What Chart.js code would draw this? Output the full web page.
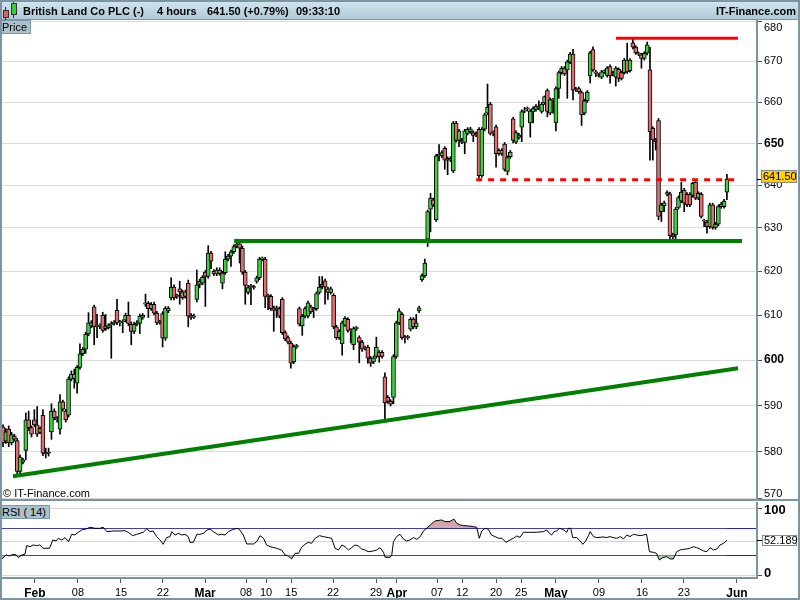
<!DOCTYPE html>
<html>
<head>
<meta charset="utf-8">
<title>British Land Co PLC - 4 hours</title>
<script src="https://cdnjs.cloudflare.com/ajax/libs/Chart.js/4.4.0/chart.umd.min.js"></script>
<style>
  html, body { margin: 0; padding: 0; background: #fff; }
  #wrap { position: relative; width: 800px; height: 600px; overflow: hidden; font-family: "Liberation Sans", Arial, sans-serif; font-size: 11px; color: #000; }
  #header { position: absolute; left: 0; top: 0; width: 800px; height: 19px; background: linear-gradient(#d4e6ee, #aecad8); border-bottom: 1px solid #7a95a4; }
  #header span { position: absolute; top: 1px; line-height: 20px; white-space: nowrap; font-weight: bold; font-size: 11px; }
  .tag { position: absolute; left: 0; height: 12px; line-height: 13px; padding: 0 3px 0 2px; background: #a9c2ce; border: 1px solid #7d97a5; border-left: none; font-size: 11px; }
  canvas { position: absolute; left: 0; }
  #priceCanvas { top: 20px; }
  #rsiCanvas { top: 500px; }
  #divider { position: absolute; left: 0; top: 499px; width: 800px; height: 2px; background: #7b95a3; }
  #frame { position: absolute; left: 0; top: 0; width: 796px; height: 596px; border: 2px solid #7b95a3; pointer-events: none; }
  #copy { position: absolute; left: 3px; top: 486px; line-height: 14px; font-size: 11px; }
  .ico { position: absolute; border: 1px solid #333; }
  .wick { position: absolute; width: 1px; background: #333; }
</style>
</head>
<body>
<div id="wrap">
  <canvas id="priceCanvas" width="800" height="480"></canvas>
  <canvas id="rsiCanvas" width="800" height="100"></canvas>
  <div id="header">
    <div class="wick" style="left:5px;top:7px;height:13px"></div>
    <div class="ico" style="left:3px;top:10px;width:4px;height:6px;background:#e06060"></div>
    <div class="wick" style="left:13px;top:1px;height:17px"></div>
    <div class="ico" style="left:11px;top:3px;width:4px;height:10px;background:#3ccc3c"></div>
    <span style="left:23px">British Land Co PLC (-)</span>
    <span style="left:157px">4 hours</span>
    <span style="left:207px">641.50 (+0.79%)</span>
    <span style="left:296px">09:33:10</span>
    <span style="right:4px">IT-Finance.com</span>
  </div>
  <div class="tag" style="top:20px">Price</div>
  <div id="copy">© IT-Finance.com</div>
  <div id="divider"></div>
  <div class="tag" style="top:505px">RSI ( 14)</div>
  <div id="frame"></div>
</div>
<script>
// 4-hour candles, one entry per bar
const opens = [
  585.4,582.3,584.9,581.9,583.4,582.4,575.8,578.3,580.3,586.9,
  585.2,586.9,585.8,584.2,587.9,579.8,579.7,584.3,588.8,587.2,
  584.9,590.8,588.8,587.9,595.8,596.9,594.9,598.4,601.4,602.4,
  605.8,607.6,611.9,607.6,607.5,610.0,607.6,607.2,607.9,608.2,
  611.1,608.3,608.5,608.9,610.0,608.0,606.4,608.0,608.2,609.5,
  612.8,612.7,611.5,612.5,610.5,608.4,610.4,604.9,611.0,614.0,
  616.4,614.4,616.0,615.3,614.3,617.3,610.0,609.6,613.6,617.0,
  617.3,619.8,618.8,624.2,620.0,619.4,620.3,617.3,619.7,622.8,
  623.5,624.5,625.8,626.3,625.3,619.8,615.2,616.6,616.3,617.7,
  618.5,622.8,622.8,614.3,614.3,611.7,611.2,611.5,613.6,606.1,
  605.0,603.8,599.6,603.0,611.5,607.6,609.8,609.8,611.9,611.3,
  611.5,615.2,617.0,617.8,616.0,615.2,614.5,607.4,605.0,603.6,
  607.8,609.1,606.6,603.4,607.0,605.0,604.0,602.6,602.9,600.4,
  599.6,600.8,601.7,601.7,596.3,591.8,590.9,591.8,600.8,608.3,
  610.2,605.0,605.1,606.9,609.1,607.4,611.0,618.1,619.0,627.4,
  634.4,636.6,631.9,647.0,647.0,648.8,646.4,646.4,643.4,654.9,
  650.7,650.8,650.2,652.4,652.8,652.6,652.0,653.4,642.3,653.4,
  657.3,659.5,652.6,654.0,648.3,647.5,649.8,643.3,646.8,655.9,
  650.3,652.0,653.9,657.8,658.4,654.9,657.6,658.2,659.0,657.7,
  659.8,662.8,657.3,660.5,654.9,663.3,667.2,668.3,667.9,669.8,
  671.8,663.0,663.3,662.3,657.3,660.3,666.4,672.9,667.4,666.6,
  666.1,667.4,666.5,668.7,667.2,666.1,668.0,667.2,667.2,670.3,
  667.7,674.6,673.5,671.8,671.6,670.7,672.0,667.9,653.6,650.8,
  655.5,633.8,635.2,637.9,638.0,628.4,628.4,634.8,636.3,638.9,
  637.9,637.9,637.6,640.7,637.0,637.9,631.7,631.4,630.3,635.4,
  630.1,630.9,635.0,635.0,638.4
];
const highs = [
  585.8,585.0,585.6,584.2,583.8,582.9,579.3,578.6,588.4,588.8,
  585.6,589.1,589.8,585.4,589.1,580.8,580.8,590.4,589.3,587.6,
  592.4,591.2,589.2,596.3,597.6,598.0,598.8,603.6,602.8,606.2,
  610.6,608.8,612.3,610.2,608.1,610.7,610.2,608.1,608.6,608.8,
  613.6,608.9,609.0,610.5,613.0,608.5,608.5,608.8,610.3,610.4,
  614.8,613.1,612.9,613.0,610.9,608.9,610.8,612.0,612.0,618.5,
  616.9,614.8,617.7,615.7,615.7,618.0,610.4,610.3,620.3,618.2,
  619.0,620.2,625.9,624.6,620.4,620.8,620.8,620.0,624.5,623.9,
  624.9,626.1,627.4,626.8,625.8,620.2,616.8,617.0,616.8,618.9,
  623.2,623.3,623.2,614.8,614.7,612.1,612.1,611.9,614.0,606.5,
  605.4,604.2,603.4,603.5,611.9,610.2,611.9,613.2,612.3,611.8,
  615.3,618.8,618.8,618.2,616.4,616.4,614.9,607.8,606.8,608.7,
  609.7,609.5,607.0,607.4,607.5,605.4,604.4,603.1,603.3,600.8,
  600.9,605.1,602.1,602.1,597.2,592.2,591.3,601.2,608.7,611.5,
  610.6,605.5,605.5,609.5,609.5,610.2,612.1,619.4,622.8,634.2,
  638.1,637.0,647.4,649.7,648.2,649.2,646.8,646.8,655.3,655.3,
  653.4,651.2,653.4,653.8,653.9,653.0,652.8,653.8,653.8,657.3,
  664.4,659.9,653.0,654.4,648.7,648.7,650.2,647.0,648.3,656.3,
  653.0,652.4,658.1,658.7,658.8,658.2,658.8,659.4,660.3,659.9,
  661.5,663.2,661.0,660.9,663.7,667.6,668.7,668.7,670.3,672.2,
  673.0,663.6,663.7,662.7,660.7,662.8,672.5,673.6,667.8,667.0,
  667.8,667.9,668.7,669.1,667.6,668.7,668.4,667.6,670.7,674.5,
  670.7,675.5,673.9,672.3,672.0,672.4,674.8,673.5,654.0,651.2,
  656.0,635.8,636.3,638.7,638.4,628.8,634.8,637.5,640.7,639.3,
  638.3,638.3,640.7,641.1,638.5,638.3,632.1,631.8,635.8,635.8,
  631.3,635.4,636.0,636.7,642.6
];
const lows = [
  581.1,581.8,581.1,581.5,582.3,575.1,575.3,577.4,578.3,584.6,
  583.2,585.4,583.3,583.9,579.2,578.7,579.1,582.7,586.9,586.4,
  583.8,588.8,586.4,587.5,595.4,593.8,592.7,598.0,601.0,601.5,
  605.4,607.2,603.4,605.0,607.0,606.2,606.6,606.9,600.4,607.8,
  607.9,607.6,606.1,608.5,607.7,603.4,605.9,607.6,605.9,609.1,
  612.0,609.5,611.1,610.1,607.9,608.0,602.9,604.4,610.6,613.5,
  613.5,613.8,612.5,613.6,613.9,607.4,609.1,609.3,613.0,616.2,
  616.9,612.0,618.4,620.6,619.0,619.0,619.1,616.0,619.3,622.4,
  621.1,624.1,625.4,621.9,619.3,612.5,614.8,612.4,615.9,617.3,
  618.1,622.4,611.7,611.3,611.1,606.4,609.5,609.4,605.7,604.3,
  603.6,598.2,599.2,602.6,607.6,605.5,609.4,609.4,610.4,609.5,
  611.1,614.8,616.0,612.5,613.6,614.8,607.0,604.6,604.6,601.1,
  607.5,606.2,603.8,602.3,606.6,599.4,601.9,602.2,599.3,598.6,
  599.2,600.4,599.5,600.4,587.1,590.5,589.9,590.4,600.4,607.9,
  604.6,603.8,604.6,606.5,607.0,607.0,610.6,617.7,618.6,625.7,
  629.1,635.0,631.5,645.8,646.6,643.8,642.5,645.6,643.0,650.3,
  649.2,649.9,647.5,652.0,652.4,650.4,651.6,641.7,641.9,653.0,
  656.9,652.0,651.8,644.3,647.1,647.1,643.4,642.5,646.4,650.1,
  649.9,651.0,650.4,657.4,657.8,651.5,654.9,657.8,658.1,657.3,
  659.4,656.4,656.9,657.3,653.0,660.9,666.8,666.5,660.9,669.4,
  660.5,662.6,662.1,654.3,656.9,659.9,664.7,667.5,666.2,666.1,
  665.7,667.0,666.1,664.6,666.4,663.9,665.0,665.4,666.8,667.0,
  667.3,673.1,671.7,671.4,668.3,670.3,671.6,646.0,646.0,648.4,
  631.9,631.5,633.8,637.5,627.2,627.0,627.2,634.4,635.9,633.8,
  635.0,635.0,637.2,636.6,636.6,632.3,630.3,628.8,629.9,629.7,
  629.7,630.5,634.6,634.6,636.6
];
const closes = [
  581.9,584.3,581.9,583.7,582.7,575.8,578.9,577.8,586.9,585.2,
  583.8,585.8,583.8,585.0,579.7,579.6,579.8,588.8,587.3,586.9,
  590.8,589.2,586.9,595.8,596.9,595.9,598.4,601.4,602.4,605.8,
  608.3,608.3,607.4,607.5,607.6,606.6,607.0,607.7,608.1,608.3,
  608.3,608.4,608.6,610.0,608.2,606.4,608.0,608.3,609.8,610.0,
  612.5,611.5,612.5,610.5,608.3,608.5,604.9,611.6,611.6,616.4,
  614.0,614.3,615.3,614.0,615.3,609.8,609.5,609.8,616.9,617.7,
  618.6,618.8,624.2,622.3,619.4,620.3,619.5,619.6,622.8,623.5,
  624.5,625.7,626.3,625.3,619.8,616.8,616.3,616.5,616.4,618.5,
  622.8,622.9,614.3,614.4,611.5,611.1,611.7,609.8,606.1,604.7,
  604.0,599.3,603.0,603.1,608.0,609.8,611.5,612.8,610.8,611.4,
  614.9,616.4,616.5,616.4,615.2,616.0,607.4,605.0,606.4,608.3,
  609.3,606.6,606.5,607.0,607.1,604.0,602.4,602.7,600.4,599.3,
  600.5,602.9,600.8,600.8,590.6,590.9,590.3,600.8,608.3,611.0,
  605.0,605.1,605.0,609.1,607.4,608.3,611.7,619.0,621.9,633.8,
  637.0,635.4,647.0,647.4,647.8,646.0,646.0,646.0,654.9,650.7,
  653.0,650.3,653.0,653.4,653.5,651.9,652.4,642.3,653.4,656.9,
  658.7,652.4,652.5,647.5,647.5,648.3,643.8,646.6,647.9,650.7,
  652.6,651.4,657.7,657.9,658.3,657.8,658.4,659.0,658.5,659.5,
  661.3,657.7,660.6,660.4,663.3,667.2,668.3,666.9,669.9,671.8,
  662.9,663.2,662.5,656.9,660.3,662.4,672.1,667.9,667.0,666.5,
  667.4,667.5,668.3,666.4,666.8,668.3,665.8,665.8,670.3,667.4,
  670.3,673.5,672.1,671.9,670.7,672.0,674.1,652.8,650.8,650.4,
  632.7,635.4,635.9,638.3,628.2,627.9,634.4,637.1,638.4,635.8,
  635.4,635.4,640.5,637.0,638.1,632.7,631.6,630.3,635.4,630.1,
  630.9,635.0,635.6,636.3,641.5
];

// RSI(14): bar position and value
const rsiBars = [
  -1.1,-0.2,1.1,2.3,3.4,4.6,5.4,6.6,7.7,8.3,
  9.5,10.6,11.8,12.9,14.1,16.3,17.5,18.6,19.4,20.6,
  21.8,23.0,24.1,25.2,26.4,27.6,29.1,30.6,32.3,34.0,
  35.2,36.4,38.7,41.0,42.8,43.9,45.5,46.9,48.1,49.2,
  50.4,51.6,52.7,53.9,55.1,56.2,57.4,58.6,59.2,60.4,
  61.5,62.7,63.9,65.0,65.6,66.8,68.0,69.1,70.3,71.6,
  72.6,73.8,75.6,76.7,77.9,79.1,80.8,82.2,83.1,84.3,
  85.5,87.9,89.0,90.2,91.4,92.5,93.7,96.0,97.7,99.0,
  100.1,101.3,102.5,103.7,104.8,106.0,107.1,108.3,109.5,111.0,
  112.4,114.1,115.3,116.5,117.7,118.9,120.0,121.2,122.3,123.5,
  124.7,125.8,127.0,128.1,130.0,131.1,132.3,133.5,134.1,135.8,
  136.4,137.0,138.1,139.3,
  140.5,141.6,142.8,144.0,145.2,146.4,147.5,148.7,149.9,151.6,
  153.9,155.1,156.8,158.2,159.2,160.4,161.6,163.3,165.1,166.2,
  167.1,168.0,169.1,170.3,171.4,172.6,173.9,175.0,176.5,177.9,
  179.1,180.2,181.4,182.6,185.0,187.3,189.6,190.8,191.7,192.5,
  193.4,194.3,195.2,196.4,197.8,198.4,199.2,199.9,201.3,202.5,
  203.4,204.3,205.4,206.0,207.2,208.3,209.5,210.6,211.8,213.0,
  214.1,215.3,216.6,217.7,218.9,220.0,221.2,222.4,223.5,224.7,
  225.8,226.8,228.2,229.3,230.3,231.5,232.9,234.1,235.2,236.4,
  237.6,238.7,239.9,241.0,242.2,243.4,244.5,245.8,247.0,248.1,
  249.3,250.5,251.6,252.8,253.3,254.0
];
const rsiValues = [
  28.0,25.5,30.5,29.0,31.5,30.5,26.5,30.5,31.5,44.3,
  42.8,45.3,44.3,45.3,40.4,40.4,52.7,51.2,55.2,52.7,
  56.2,50.2,61.1,60.1,64.1,67.5,69.0,71.5,70.0,70.0,
  71.5,65.1,66.0,66.0,66.5,64.1,59.1,61.1,62.6,64.1,
  69.0,65.1,66.0,57.7,52.7,46.3,56.2,57.7,65.1,60.1,
  62.6,60.1,61.1,57.7,49.3,49.3,61.1,61.1,62.6,67.5,
  69.0,65.1,60.1,61.1,60.1,65.1,68.5,70.0,67.5,60.1,
  46.8,46.8,50.2,59.1,55.2,45.3,42.8,40.4,37.9,30.5,
  29.0,24.6,33.0,33.0,41.8,46.3,49.3,47.8,55.2,59.1,
  57.7,56.2,55.2,40.4,37.9,45.3,42.8,37.9,41.3,45.3,
  43.8,39.4,37.9,35.4,36.4,37.9,41.3,34.4,27.0,27.0,
  30.5,50.2,57.7,61.1,
  54.2,51.2,52.7,56.2,53.7,57.7,66.0,70.0,74.9,80.9,
  82.4,79.9,79.9,83.8,77.4,74.9,74.0,73.5,72.5,71.5,
  55.2,66.0,70.0,68.5,60.1,57.7,55.2,55.2,49.3,52.7,
  55.2,58.6,56.7,64.1,64.1,64.1,65.1,67.5,62.6,60.1,
  65.1,66.0,70.0,68.5,64.1,70.0,70.0,56.2,56.2,51.2,
  46.3,50.2,59.1,65.1,57.7,56.2,56.7,57.2,56.2,57.7,
  56.2,55.2,57.7,54.2,60.1,57.7,61.1,60.1,59.1,60.1,
  61.1,35.4,34.4,32.9,23.1,26.5,28.0,24.6,24.6,35.4,
  37.9,38.9,39.4,40.4,42.8,41.3,39.4,36.4,35.4,41.3,
  37.9,39.4,45.3,47.8,49.3,52.189
];

// date axis: bar position of each label
const dateTickBars = [11.2,26.3,41.4,56.1,70.9,85.3,92.3,101.1,115.8,130.9,138.2,152.3,161.1,173.0,181.8,194.0,209.1,224.2,238.9,257.5];
const dateTickLabels = ["Feb","08","15","22","Mar","08","10","15","22","29","Apr","07","12","20","25","May","09","16","23","Jun"];
const monthLabels = ["Feb","Mar","Apr","May","Jun"];

const priceTicks = [570,580,590,600,610,620,630,640,650,660,670,680];
const boldPrices = [600,650];
const lastPrice = 641.50;
const lastRsi = 52.189;

// drawn lines as [bar, price]
const trendLine = [[3.5, 574.8], [257.9, 598.2]];
const supportLine = [[81.1, 627.0], [259.3, 627.0]];
const topLine = [[215.1, 675.7], [257.9, 675.7]];
const resistLine = [[166.0, 641.3], [257.2, 641.3]];

const FONT = '"Liberation Sans", Arial, sans-serif';
const UP = "#3fcf3f";
const DOWN = "#e07070";
const AXIS = "#7b95a3";
const xMin = -0.35, xMax = 264.55;

Chart.defaults.font.family = FONT;
Chart.defaults.color = "#000";

function lineSet(points, color, width, dash) {
  return {
    type: "line",
    data: points.map(p => ({ x: p[0], y: p[1] })),
    borderColor: color,
    borderWidth: width,
    borderDash: dash || [],
    borderCapStyle: "butt",
    pointRadius: 0,
    fill: false
  };
}

const bodies = closes.map((c, i) => ({ x: i, y: [opens[i], c] }));
const wicks = closes.map((c, i) => ({ x: i, y: [lows[i], highs[i]] }));
const bodyColors = closes.map((c, i) => (c >= opens[i] ? UP : DOWN));

const clamp = (v, a, b) => Math.min(Math.max(v, a), b);

const priceLabels = {
  id: "priceLabels",
  afterDraw(chart) {
    const { ctx, chartArea } = chart;
    const y = chart.scales.y;
    ctx.save();
    ctx.fillStyle = "#000";
    ctx.textBaseline = "middle";
    ctx.textAlign = "left";
    priceTicks.forEach(v => {
      ctx.font = (boldPrices.includes(v) ? "bold 12px " : "11px ") + FONT;
      const py = clamp(y.getPixelForValue(v), chartArea.top + 8, chartArea.bottom - 4);
      ctx.fillText(String(v), chartArea.right + 7, py);
    });
    // last price tag
    const ly = Math.round(y.getPixelForValue(lastPrice));
    ctx.strokeStyle = "#000";
    ctx.beginPath();
    ctx.moveTo(chartArea.right, ly + 0.5);
    ctx.lineTo(chartArea.right + 5, ly + 0.5);
    ctx.stroke();
    ctx.fillStyle = "#ffd000";
    ctx.fillRect(chartArea.right + 4, ly - 9, 36, 13);
    ctx.strokeStyle = "#8a8a8a";
    ctx.strokeRect(chartArea.right + 4.5, ly - 8.5, 35, 12);
    ctx.fillStyle = "#000";
    ctx.font = "11px " + FONT;
    ctx.fillText(lastPrice.toFixed(2), chartArea.right + 6, ly - 2);
    ctx.restore();
  }
};

new Chart(document.getElementById("priceCanvas"), {
  type: "bar",
  data: {
    datasets: [
      lineSet(topLine, "#ff0000", 3),
      lineSet(resistLine, "#ff0000", 3, [6, 6]),
      lineSet(supportLine, "#008000", 4),
      lineSet(trendLine, "#008000", 4),
      {
        type: "bar",
        data: bodies,
        backgroundColor: bodyColors,
        borderColor: "#000",
        borderWidth: 1,
        borderSkipped: false,
        barThickness: 4,
        minBarLength: 1,
        grouped: false
      },
      {
        type: "bar",
        data: wicks,
        backgroundColor: "#000",
        borderWidth: 0,
        barThickness: 1,
        grouped: false
      }
    ]
  },
  options: {
    responsive: false,
    animation: false,
    events: [],
    layout: { padding: { left: 2, right: 0, top: 0, bottom: 2 } },
    plugins: { legend: { display: false }, tooltip: { enabled: false } },
    scales: {
      x: { type: "linear", min: xMin, max: xMax, offset: false, bounds: "data", display: false },
      y: {
        type: "logarithmic",
        position: "right",
        min: 570.2,
        max: 680.3,
        bounds: "data",
        afterBuildTicks: s => { s.ticks = priceTicks.map(v => ({ value: v })); },
        afterFit: s => { s.width = 43; },
        ticks: { display: false },
        grid: { color: "#dcdcdc", tickColor: "#555", tickLength: 5 },
        border: { color: AXIS, width: 2 }
      }
    }
  },
  plugins: [priceLabels]
});

const rsiPoints = rsiBars.map((b, i) => ({ x: b, y: rsiValues[i] }));

const rsiLabels = {
  id: "rsiLabels",
  afterDraw(chart) {
    const { ctx, chartArea } = chart;
    const y = chart.scales.y;
    ctx.save();
    ctx.fillStyle = "#000";
    ctx.textBaseline = "middle";
    ctx.textAlign = "left";
    ctx.font = "bold 13px " + FONT;
    ctx.fillText("100", chartArea.right + 7, clamp(y.getPixelForValue(100), 10, 90));
    ctx.fillText("0", chartArea.right + 7, clamp(y.getPixelForValue(0), 0, chartArea.bottom - 5));
    const ry = Math.round(y.getPixelForValue(lastRsi));
    ctx.strokeStyle = "#000";
    ctx.beginPath();
    ctx.moveTo(chartArea.right, ry + 0.5);
    ctx.lineTo(chartArea.right + 5, ry + 0.5);
    ctx.stroke();
    ctx.fillStyle = "#fff";
    ctx.fillRect(chartArea.right + 5, ry - 5, 35, 11);
    ctx.strokeStyle = "#8a8a8a";
    ctx.strokeRect(chartArea.right + 5.5, ry - 4.5, 34, 10);
    ctx.fillStyle = "#000";
    ctx.font = "11px " + FONT;
    ctx.fillText(String(lastRsi), chartArea.right + 7, ry + 1);
    ctx.restore();
  }
};

new Chart(document.getElementById("rsiCanvas"), {
  type: "line",
  data: {
    datasets: [
      {
        data: rsiPoints,
        borderColor: "#000",
        borderWidth: 1,
        pointRadius: 0,
        fill: { target: { value: 70 }, above: "#d4a8a4", below: "rgba(0,0,0,0)" }
      },
      {
        data: rsiPoints,
        borderColor: "rgba(0,0,0,0)",
        borderWidth: 0,
        pointRadius: 0,
        fill: { target: { value: 30 }, above: "rgba(0,0,0,0)", below: "#a8d4a6" }
      }
    ]
  },
  options: {
    responsive: false,
    animation: false,
    events: [],
    layout: { padding: { left: 2, right: 0, top: 3, bottom: 0 } },
    plugins: { legend: { display: false }, tooltip: { enabled: false } },
    scales: {
      x: {
        type: "linear",
        min: xMin,
        max: xMax,
        bounds: "data",
        offset: false,
        afterBuildTicks: s => { s.ticks = dateTickBars.map(v => ({ value: v })); },
        afterFit: s => { s.height = 22; },
        ticks: {
          autoSkip: false,
          maxRotation: 0,
          padding: 3,
          color: "#000",
          callback: (v, i) => dateTickLabels[i],
          font: c => monthLabels.includes(dateTickLabels[c.index])
            ? { family: FONT, size: 12, weight: "bold" }
            : { family: FONT, size: 11 }
        },
        grid: { drawOnChartArea: false, tickLength: 5, tickColor: "#555" },
        border: { color: AXIS, width: 2 }
      },
      y: {
        position: "right",
        min: -3.63,
        max: 107.5,
        bounds: "data",
        afterBuildTicks: s => { s.ticks = [0, 30, 50, 70, 100].map(v => ({ value: v })); },
        afterFit: s => { s.width = 43; },
        ticks: { display: false },
        grid: {
          color: c => (c.tick && (c.tick.value === 70 || c.tick.value === 30)) ? "#2020c8" : "#d4d4d4",
          tickColor: c => (c.tick && (c.tick.value === 0 || c.tick.value === 100)) ? "#555" : "rgba(0,0,0,0)",
          tickLength: 5
        },
        border: { color: AXIS, width: 2 }
      }
    }
  },
  plugins: [rsiLabels]
});
</script>
</body>
</html>
